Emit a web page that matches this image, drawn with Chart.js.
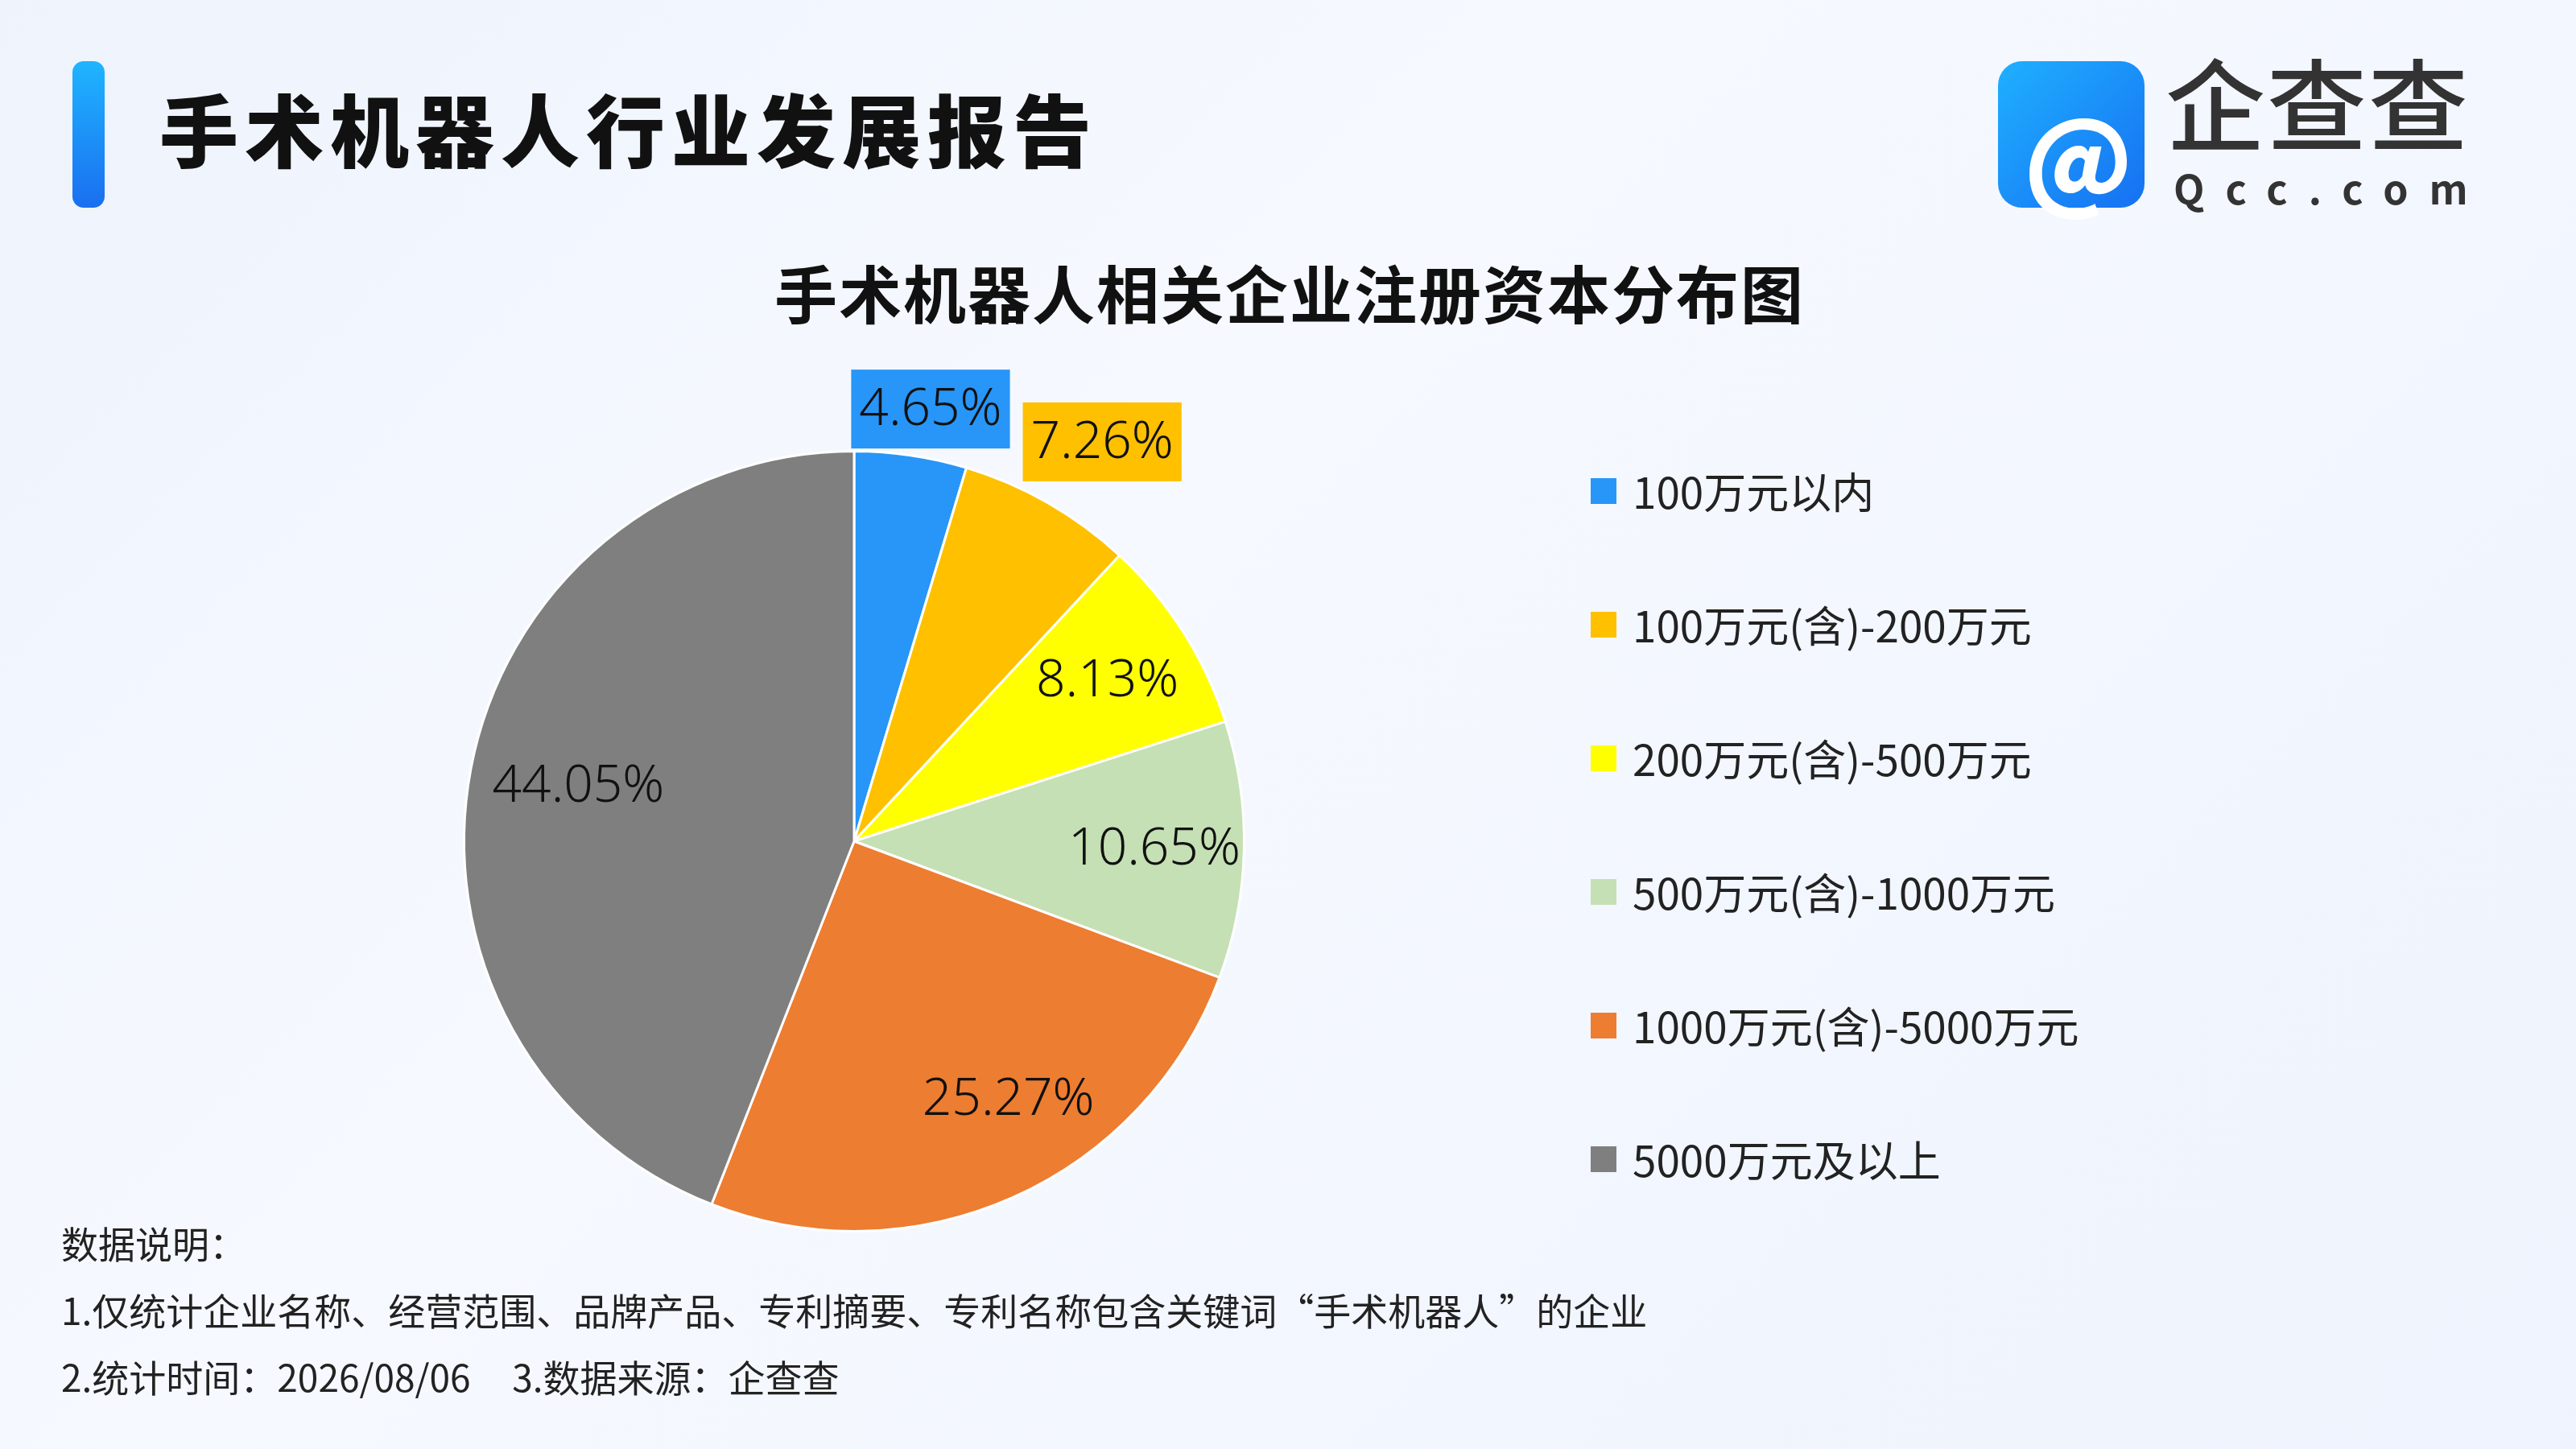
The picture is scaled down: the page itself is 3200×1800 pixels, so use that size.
<!DOCTYPE html>
<html><head><meta charset="utf-8">
<script src="https://cdn.jsdelivr.net/npm/chart.js@4"></script>
<style>
body{margin:0;width:3200px;height:1800px;overflow:hidden;font-family:"Noto Sans CJK SC","Noto Sans",sans-serif;
background:linear-gradient(135deg,#eef3fc 0%,#f6f9ff 40%,#eef3fd 100%);position:relative;color:#111}
#c{position:absolute;left:0;top:0}
.bar{position:absolute;left:90px;top:76px;width:40px;height:182px;border-radius:14px;background:linear-gradient(#1fb5ff,#1a6ff0)}
.h1{position:absolute;left:198px;top:86px;font-size:98px;font-weight:900;letter-spacing:8px;color:#111}
.logo{position:absolute;left:2482px;top:76px;width:182px;height:182px;border-radius:30px;background:linear-gradient(135deg,#1fb0ff,#1670f2)}
.logo span{position:absolute;left:32px;top:20px;font-size:130px;color:#fff;font-weight:900}
.lt{position:absolute;left:2690px;top:62px;font-size:124px;font-weight:500;color:#333;letter-spacing:2px;line-height:1}
.ls{position:absolute;left:2700px;top:196px;font-size:50px;font-weight:700;color:#333;letter-spacing:26px}
.h2{position:absolute;left:962px;top:306px;font-size:78px;font-weight:700;letter-spacing:2px;color:#111}
.note{position:absolute;left:76px;font-size:46px;color:#222}
</style></head><body>
<canvas id="c" width="3200" height="1800"></canvas>
<div class="bar"></div>
<div class="h1">手术机器人行业发展报告</div>
<div class="logo"><span>@</span></div>
<div class="lt">企查查</div>
<div class="ls">Qcc.com</div>
<div class="h2">手术机器人相关企业注册资本分布图</div>
<div class="note" style="top:1510px">数据说明：</div>
<div class="note" style="top:1593px">1.仅统计企业名称、经营范围、品牌产品、专利摘要、专利名称包含关键词“手术机器人”的企业</div>
<div class="note" style="top:1676px">2.统计时间：2026/08/06&nbsp;&nbsp;&nbsp;&nbsp;&nbsp;3.数据来源：企查查</div>
<script>
const categories=['100万元以内','100万元(含)-200万元','200万元(含)-500万元','500万元(含)-1000万元','1000万元(含)-5000万元','5000万元及以上'];
const shares=[4.65,7.26,8.13,10.65,25.27,44.05];
const colors=['#2796F8','#FFC000','#FFFF00','#C5E0B4','#ED7D31','#7F7F7F'];

const labelsPlugin={id:'lbl',afterDatasetsDraw(chart){
  const ctx=chart.ctx;const meta=chart.getDatasetMeta(0);
  ctx.save();ctx.font='300 64px "Noto Sans",sans-serif';ctx.textAlign='center';ctx.textBaseline='middle';
  const dx=[16,24,0,0,0,24];
  meta.data.forEach((arc,i)=>{
    let mid=(arc.startAngle+arc.endAngle)/2;
    if(i==4)mid-=0.12;
    const outside=i<2;
    const rr=outside?arc.outerRadius*(i==0?1.12:1.18):arc.outerRadius*0.77;
    const x=arc.x+Math.cos(mid)*rr+dx[i],y=arc.y+Math.sin(mid)*rr;
    const t=shares[i].toFixed(2)+'%';
    if(outside){const w=ctx.measureText(t).width+20;ctx.fillStyle=colors[i];ctx.fillRect(x-w/2,y-49,w,98);}
    ctx.fillStyle='#111';ctx.fillText(t,x,y+2);
  });
  ctx.textAlign='left';ctx.font='53px "Noto Sans CJK SC",sans-serif';
  categories.forEach((c,i)=>{const y=610+i*166;ctx.fillStyle=colors[i];ctx.fillRect(1976,y-16,32,32);
    ctx.fillStyle='#222';ctx.fillText(c,2028,y+2);});
  ctx.restore();
}};
new Chart(document.getElementById('c'),{type:'pie',
 data:{labels:categories,datasets:[{data:shares,backgroundColor:colors,borderColor:'#fff',borderWidth:3}]},
 options:{responsive:false,animation:false,layout:{padding:{left:575,right:1653,top:559,bottom:269}},
  plugins:{legend:{display:false},tooltip:{enabled:false}}},
 plugins:[labelsPlugin]});
</script></body></html>
